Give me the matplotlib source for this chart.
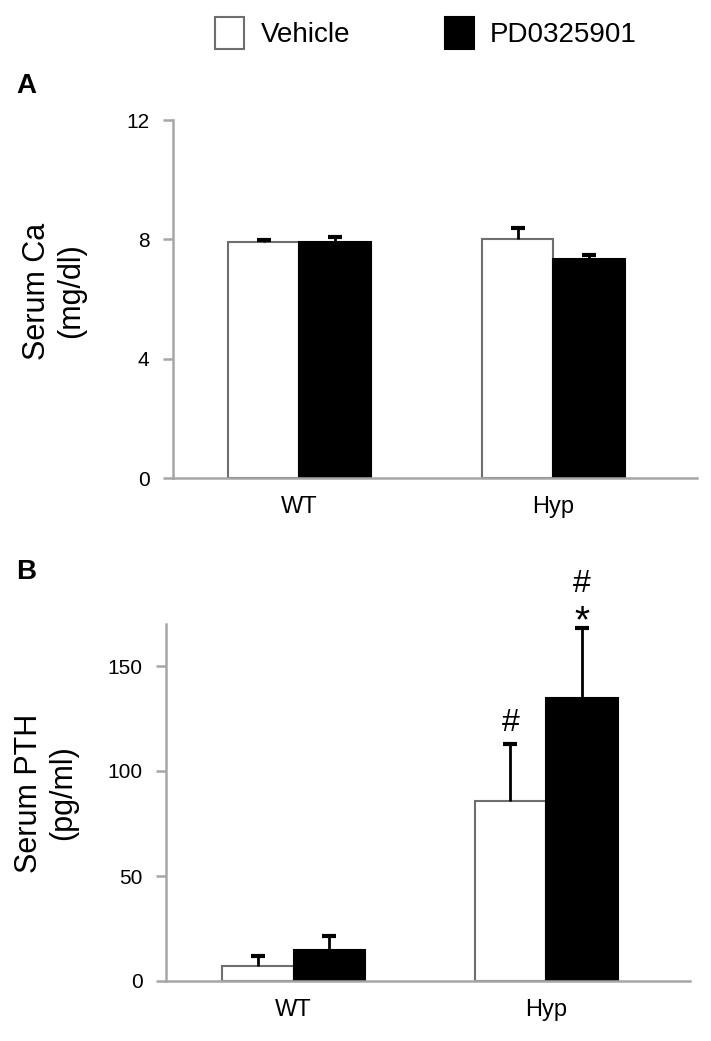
#!/usr/bin/env python

import numpy as np
import matplotlib
matplotlib.use('Agg')
import matplotlib.pyplot as plt
from matplotlib.patches import Patch

plt.rcParams['font.family'] = ['Liberation Sans', 'DejaVu Sans']

# Data
groups = ['WT', 'Hyp']
series = ['Vehicle', 'PD0325901']

ca_vehicle = [7.92, 8.00]
ca_vehicle_err = [0.05, 0.37]
ca_pd = [7.92, 7.33]
ca_pd_err = [0.17, 0.16]

pth_vehicle = [7.0, 85.9]
pth_vehicle_err = [4.9, 27.1]
pth_pd = [14.6, 134.8]
pth_pd_err = [6.7, 33.5]

ca_ticks = [0, 4, 8, 12]
pth_ticks = [0, 50, 100, 150]

# significance marks: (group index, series index, y, text, size)
pth_marks = [(1, 0, 123, '#', 23), (1, 1, 189, '#', 23), (1, 1, 171, '*', 28)]

W, H = 711, 1041
fig = plt.figure(figsize=(W/100, H/100), dpi=100)

spine_col = '#a6a6a6'
edge_white = '#6e6e6e'
bar_w = 0.283
x = np.arange(len(groups))


def upper_err(ax, xpos, vals, errs):
    # only the upper half of the error bar, like the original
    _, caps, _ = ax.errorbar(xpos, vals, yerr=[np.zeros(len(vals)), errs],
                             fmt='none', ecolor='black', elinewidth=2,
                             capsize=5, capthick=3, zorder=3)
    caps[0].set_visible(False)


def draw_panel(ax, veh, veh_err, pd, pd_err, ticks, ylim, xlim):
    ax.bar(x - bar_w/2, veh, bar_w, color='white', edgecolor=edge_white,
           linewidth=1.5, zorder=2)
    ax.bar(x + bar_w/2, pd, bar_w, color='black', edgecolor='black',
           linewidth=1.5, zorder=2)
    upper_err(ax, x - bar_w/2, veh, veh_err)
    upper_err(ax, x + bar_w/2, pd, pd_err)
    ax.set_xlim(*xlim)
    ax.set_ylim(*ylim)
    ax.set_yticks(ticks)
    ax.set_xticks(x)
    ax.set_xticklabels(groups)
    for s in ['top', 'right']:
        ax.spines[s].set_visible(False)
    for s in ['left', 'bottom']:
        ax.spines[s].set_color(spine_col)
        ax.spines[s].set_linewidth(1.8)
    ax.tick_params(axis='y', length=7, width=1.8, color=spine_col,
                   labelsize=15, pad=10, labelcolor='black')
    ax.tick_params(axis='x', length=0, labelsize=17, pad=13)


# Panel A
ax_a = fig.add_axes([173/W, 1 - 478/H, 524/W, 358/H])
draw_panel(ax_a, ca_vehicle, ca_vehicle_err, ca_pd, ca_pd_err,
           ca_ticks, (0, 12), (-0.498, 1.565))

# Panel B
ax_b = fig.add_axes([166/W, 1 - 981/H, 524/W, 357/H])
draw_panel(ax_b, pth_vehicle, pth_vehicle_err, pth_pd, pth_pd_err,
           pth_ticks, (0, 170), (-0.505, 1.570))

for gi, si, yv, txt, sz in pth_marks:
    xpos = x[gi] + (bar_w/2 if si == 1 else -bar_w/2)
    ax_b.text(xpos, yv, txt, ha='center', va='center', fontsize=sz,
              clip_on=False)

# Y labels
fig.text(54/W, 1 - 291/H, 'Serum Ca\n(mg/dl)', rotation=90, ha='center',
         va='center', fontsize=22, multialignment='center', linespacing=1.15)
fig.text(46/W, 1 - 793/H, 'Serum PTH\n(pg/ml)', rotation=90, ha='center',
         va='center', fontsize=22, multialignment='center', linespacing=1.15)

# Panel letters
fig.text(26/W, 1 - 86/H, 'A', fontsize=20, fontweight='bold',
         ha='center', va='center')
fig.text(26/W, 1 - 572/H, 'B', fontsize=20, fontweight='bold',
         ha='center', va='center')

# Legend
handles = [Patch(facecolor='white', edgecolor=edge_white, linewidth=1.5),
           Patch(facecolor='black', edgecolor='black', linewidth=1.5)]
fig.legend(handles, series, loc='center', bbox_to_anchor=(426/W, 1 - 33/H),
           ncol=2, frameon=False, fontsize=20, handlelength=1.05,
           handleheight=1.45, handletextpad=0.58, columnspacing=3.4,
           borderpad=0)

fig.savefig('out.png', dpi=100)
